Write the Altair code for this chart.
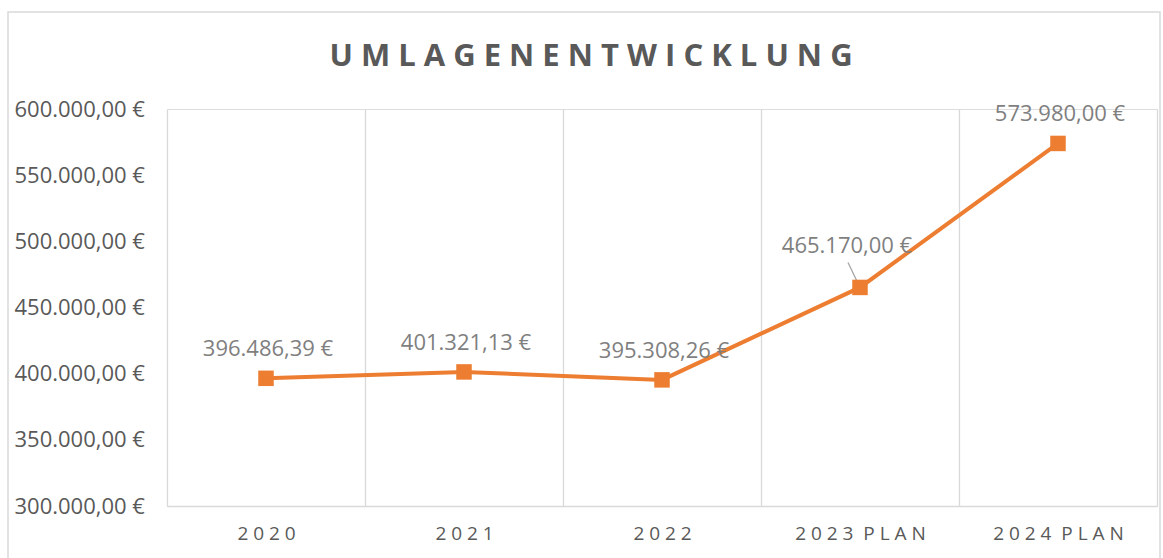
import altair as alt
import pandas as pd

years = ["2020", "2021", "2022", "2023 PLAN", "2024 PLAN"]
values = [396486.39, 401321.13, 395308.26, 465170.00, 573980.00]
y_ticks = [300000, 350000, 400000, 450000, 500000, 550000, 600000]
title_text = "UMLAGENENTWICKLUNG"

NB = "\u00a0"


def spaced(s):
    return (NB * 2).join(NB.join(w) for w in s.split(" "))


def de_eur(v):
    return f"{v:,.2f}".replace(",", "X").replace(".", ",").replace("X", ".") + " €"


cats = [spaced(y) for y in years]
df = pd.DataFrame({
    "cat": cats,
    "value": values,
    "label": [de_eur(v) for v in values],
    "callout": [0, 0, 0, 1, 0],
})

FONT = "Open Sans"
W, H = 990, 397

x_enc = alt.X(
    "cat:N",
    sort=cats,
    scale=alt.Scale(type="band", paddingInner=0, paddingOuter=0),
    axis=alt.Axis(
        title=None, labelAngle=0, ticks=False, grid=True, tickBand="extent",
        gridColor="#d9d9d9", gridWidth=1.3, domain=True, domainColor="#d9d9d9",
        domainWidth=1.3, labelFont=FONT, labelFontSize=19, labelColor="#595959",
        labelBaseline="middle", labelPadding=27,
    ),
)
y_enc = alt.Y(
    "value:Q",
    scale=alt.Scale(domain=[300000, 600000], nice=False, zero=False),
    axis=alt.Axis(
        title=None, values=y_ticks, grid=False, domain=False, ticks=False,
        labelAlign="left", labelPadding=153, labelBaseline="middle",
        labelFont=FONT, labelFontSize=22, labelColor="#595959",
        labelExpr="replace(replace(replace(format(datum.value, ',.2f'), ',', 'X'), '.', ','), 'X', '.') + ' €'",
    ),
)

base = alt.Chart(df)
one = alt.Chart(pd.DataFrame({"t": [NB.join(title_text)]}))

frame = one.mark_rect(
    fillOpacity=0, stroke="#d9d9d9", strokeWidth=1.5
).encode(x=alt.value(-159), x2=alt.value(993), y=alt.value(-97), y2=alt.value(470))

title = one.mark_text(
    font=FONT, fontSize=31, fontWeight="bold", color="#595959",
    align="center", baseline="alphabetic"
).encode(x=alt.value(424), y=alt.value(-43), text="t:N")

line = base.mark_line(color="#ED7D31", strokeWidth=4).encode(x=x_enc, y=y_enc)
pts = base.mark_point(shape="square", filled=True, opacity=1, size=240,
                      color="#ED7D31").encode(x=x_enc, y=y_enc)

labels = base.transform_filter("datum.callout == 0").mark_text(
    font=FONT, fontSize=22, color="#7f7f7f", dy=-29, dx=2, baseline="middle"
).encode(x=x_enc, y=y_enc, text="label:N")

callout_lbl = base.transform_filter("datum.callout == 1").mark_text(
    font=FONT, fontSize=22, color="#7f7f7f", dy=-41, dx=-13, baseline="middle"
).encode(x=x_enc, y=y_enc, text="label:N")

leader = base.transform_filter("datum.callout == 1").mark_rule(
    color="#a6a6a6", strokeWidth=1.3, xOffset=-12, yOffset=-25, x2Offset=0, y2Offset=0
).encode(x=x_enc, y=y_enc, x2=alt.X2("cat"), y2=alt.Y2("value"))

chart = alt.layer(frame, title, leader, line, pts, labels, callout_lbl).properties(
    width=W,
    height=H,
    autosize=alt.AutoSizeParams(type="none"),
    padding={"left": 167, "top": 109, "right": 6, "bottom": 52},
).configure_view(stroke=None).configure(background="white")

chart.save("out.html", embed_options={"renderer": "svg", "actions": False})
